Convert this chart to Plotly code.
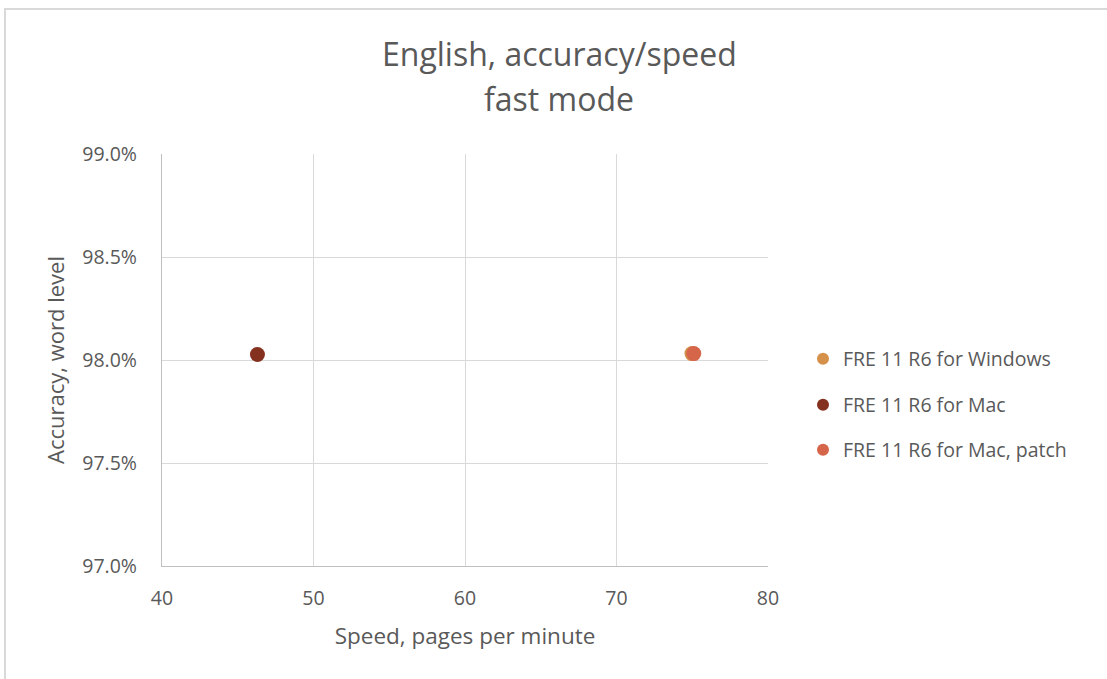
import plotly.graph_objects as go

series_names = ["FRE 11 R6 for Windows", "FRE 11 R6 for Mac", "FRE 11 R6 for Mac, patch"]
speed = [74.98, 46.3, 75.1]
accuracy = [0.98031, 0.98027, 0.98031]
colors = ["#D5914A", "#85311F", "#D6664A"]

x_ticks = [40, 50, 60, 70, 80]
y_ticks = [0.97, 0.975, 0.98, 0.985, 0.99]

title_lines = ["English, accuracy/speed", "fast mode"]

FONT = "Open Sans"
TXT = "#595959"

W, H = 1107, 679
L, R, T, B = 162, 768, 154, 566
pw, ph = R - L, B - T

def px(xp):
    return (xp - L) / pw

def py(yp):
    return (B - yp) / ph

fig = go.Figure()
legend_ids = ["legend", "legend2", "legend3"]
legend_rows = [359, 405, 450]
for name, s, a, c, lg in zip(series_names, speed, accuracy, colors, legend_ids):
    fig.add_trace(go.Scatter(
        x=[s], y=[a], mode="markers", name=name, legend=lg, showlegend=True,
        marker=dict(color=c, size=15, line=dict(width=0)),
    ))

legend_common = dict(
    xanchor="left", yanchor="middle",
    font=dict(size=19.5, color=TXT, family=FONT), itemsizing="constant",
    bgcolor="rgba(0,0,0,0)", borderwidth=0, visible=True,
)

annotations = []
for txt, yc in zip(title_lines, [53, 98]):
    annotations.append(dict(
        text=txt, xref="paper", yref="paper", x=px(559), y=py(yc),
        xanchor="center", yanchor="middle", showarrow=False,
        font=dict(size=32, color=TXT, family=FONT),
    ))

fig.update_layout(
    width=W, height=H,
    margin=dict(l=L, r=W - R, t=T, b=H - B, pad=0),
    paper_bgcolor="white", plot_bgcolor="white",
    showlegend=True,
    font=dict(family=FONT, color=TXT, size=19.5),
    annotations=annotations,
    xaxis=dict(
        range=[40, 80], tickvals=x_ticks, showgrid=True, gridcolor="#D9D9D9", gridwidth=1.3,
        showline=True, linecolor="#BFBFBF", linewidth=1.3, zeroline=False,
        ticks="", ticklabelstandoff=14,
        title=dict(text="Speed, pages per minute", font=dict(size=22.5, color=TXT), standoff=18),
        tickfont=dict(size=19.5, color=TXT),
    ),
    yaxis=dict(
        range=[0.97, 0.99], tickvals=y_ticks, tickformat=".1%", showgrid=True,
        gridcolor="#D9D9D9", gridwidth=1.3,
        showline=True, linecolor="#BFBFBF", linewidth=1.3, zeroline=False,
        ticks="", ticklabelstandoff=20,
        title=dict(text="Accuracy, word level", font=dict(size=22, color=TXT), standoff=11),
        tickfont=dict(size=19.5, color=TXT),
    ),
    legend=dict(x=px(803), y=py(legend_rows[0]), **legend_common),
    legend2=dict(x=px(803), y=py(legend_rows[1]), **legend_common),
    legend3=dict(x=px(803), y=py(legend_rows[2]), **legend_common),
    shapes=[dict(
        type="rect", xref="paper", yref="paper",
        x0=px(5), x1=px(1120), y0=py(700), y1=py(9),
        line=dict(color="#D9D9D9", width=2), fillcolor="rgba(0,0,0,0)", layer="below",
    )],
)

fig.write_html(
    "out.html",
    config={"displayModeBar": False},
    post_script="document.body.style.margin='0';document.body.style.overflow='hidden';",
)
